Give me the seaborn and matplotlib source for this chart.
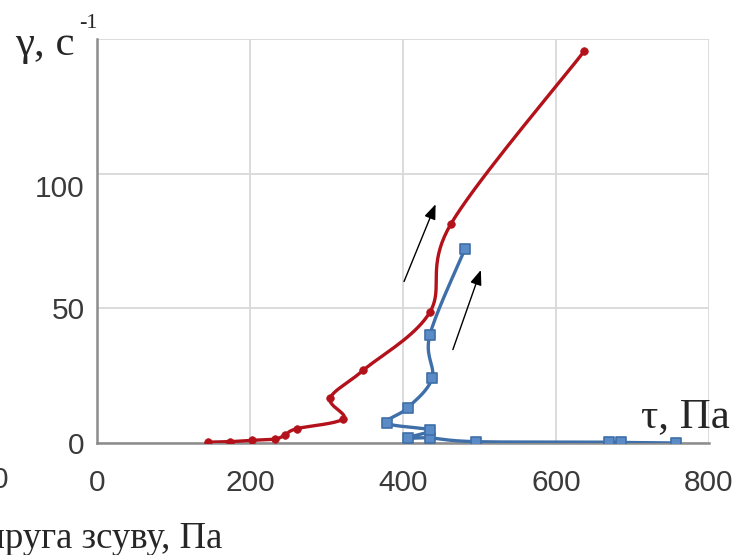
import numpy as np
import pandas as pd
import matplotlib.pyplot as plt
import matplotlib.transforms as mtransforms
import seaborn as sns

# Red curve (shear stress, Pa / shear rate, 1/s)
red_tau = [145, 174, 203, 233, 246, 261, 322, 305, 348, 435, 463, 637]
red_gamma = [0.3, 0.5, 1.0, 1.5, 3.0, 5.3, 9.0, 16.7, 27.0, 48.5, 81.5, 145.5]

# Blue curve
blue_tau = [757, 685, 669, 495, 435, 406, 435, 379, 406, 438, 435, 481]
blue_gamma = [0.0, 0.2, 0.3, 0.5, 1.9, 1.9, 4.8, 7.4, 13.0, 24.0, 40.0, 72.0]

# Direction arrows (tail, head) in data units
arrows = [((400, 59), (444, 89.6)), ((464, 33.7), (503, 65.2))]

x_ticks = [0, 200, 400, 600, 800]
y_ticks = [0, 50, 100]

red_color = "#b3121b"
blue_color = "#3f6fa8"
grid_color = "#d9d9d9"
spine_color = "#8c8c8c"
label_color = "#3a3a3a"

x_lim = (0, 800)
y_lim = (0, 150)


def smooth(xs, ys, sx, sy, n=20):
    # Excel-like smoothed line (Catmull-Rom Bezier), built in screen-like units
    p = np.column_stack([np.asarray(xs, float) * sx, np.asarray(ys, float) * sy])
    pts = [p[0]]
    for i in range(len(p) - 1):
        p0 = p[i - 1] if i > 0 else p[i]
        p1 = p[i]
        p2 = p[i + 1]
        p3 = p[i + 2] if i + 2 < len(p) else p[i + 1]
        c1 = p1 + (p2 - p0) / 6.0
        c2 = p2 - (p3 - p1) / 6.0
        t = np.linspace(0, 1, n)[1:, None]
        seg = ((1 - t) ** 3) * p1 + 3 * ((1 - t) ** 2) * t * c1 \
            + 3 * (1 - t) * t ** 2 * c2 + t ** 3 * p2
        pts.extend(seg)
    pts = np.array(pts)
    return pd.DataFrame({"tau": pts[:, 0] / sx, "gamma": pts[:, 1] / sy})


sns.set_style("white")
plt.rcParams["font.family"] = ["Liberation Sans", "DejaVu Sans"]
serif = ["Liberation Serif", "DejaVu Serif"]

fig = plt.figure(figsize=(7.42, 5.55), dpi=100)
ax = fig.add_axes([0.1307, 0.2018, 0.8248, 0.7279])

# pixels per data unit, so the smoothing follows the drawn shape
sx = 612 / (x_lim[1] - x_lim[0])
sy = 404 / (y_lim[1] - y_lim[0])

red_df = pd.DataFrame({"tau": red_tau, "gamma": red_gamma})
blue_df = pd.DataFrame({"tau": blue_tau, "gamma": blue_gamma})

sns.lineplot(
    data=smooth(blue_tau, blue_gamma, sx, sy), x="tau", y="gamma",
    sort=False, estimator=None, color=blue_color, linewidth=2.4,
    ax=ax, zorder=3
)
sns.scatterplot(
    data=blue_df, x="tau", y="gamma", marker="s", s=45,
    color="#5b8bc7", edgecolor=blue_color, linewidth=1.2,
    ax=ax, zorder=3.5
)

sns.lineplot(
    data=smooth(red_tau, red_gamma, sx, sy), x="tau", y="gamma",
    sort=False, estimator=None, color=red_color, linewidth=2.4,
    ax=ax, zorder=4
)
sns.scatterplot(
    data=red_df, x="tau", y="gamma", marker="o", s=30,
    color=red_color, edgecolor=red_color, linewidth=0.5,
    ax=ax, zorder=4.5
)

for tail, head in arrows:
    ax.annotate(
        "", xy=head, xytext=tail,
        arrowprops=dict(arrowstyle="-|>,head_length=0.9,head_width=0.35",
                        color="black", lw=1.0),
        zorder=5
    )

ax.set_xlim(*x_lim)
ax.set_ylim(*y_lim)
ax.set_xticks(x_ticks)
ax.set_yticks(y_ticks)
ax.set_yticks([150], minor=True)
ax.grid(True, which="both", color=grid_color, linewidth=1.3)
ax.set_axisbelow(True)

ax.set_xlabel("")
ax.set_ylabel("")

for side in ["top", "right"]:
    ax.spines[side].set_visible(False)
for side in ["left", "bottom"]:
    ax.spines[side].set_color(spine_color)
    ax.spines[side].set_linewidth(1.8)

ax.tick_params(axis="both", which="major", direction="out", length=6,
               width=1.3, color=spine_color, labelsize=21.5,
               labelcolor=label_color)
ax.tick_params(axis="x", pad=13)
ax.tick_params(axis="y", pad=3)
ax.tick_params(axis="y", which="minor", length=0)

# the "100" label sits a little below its grid line in the original
fig.canvas.draw()
shift = mtransforms.ScaledTranslation(0, -12 / 100, fig.dpi_scale_trans)
for tick in ax.yaxis.get_major_ticks():
    if tick.get_loc() == 100:
        tick.label1.set_transform(tick.label1.get_transform() + shift)

# Axis titles
fig.text(15 / 742, 1 - 55 / 555, "γ, c", fontsize=31, family=serif,
         va="baseline")
fig.text(79 / 742, 1 - 28 / 555, "-1", fontsize=16, family=serif,
         va="baseline")
fig.text(641 / 742, 1 - 427 / 555, "τ, Па", fontsize=31, family=serif,
         va="baseline")

# Cut-off neighbouring labels at the left edge
fig.text(222 / 742, 1 - 548 / 555, "Напруга зсуву, Па", fontsize=26.5,
         family=serif, va="baseline", ha="right")
fig.text(8 / 742, 1 - 480 / 555, "0", fontsize=21.5, color=label_color,
         va="center", ha="right")

plt.savefig("out.png", dpi=100)
plt.close()
